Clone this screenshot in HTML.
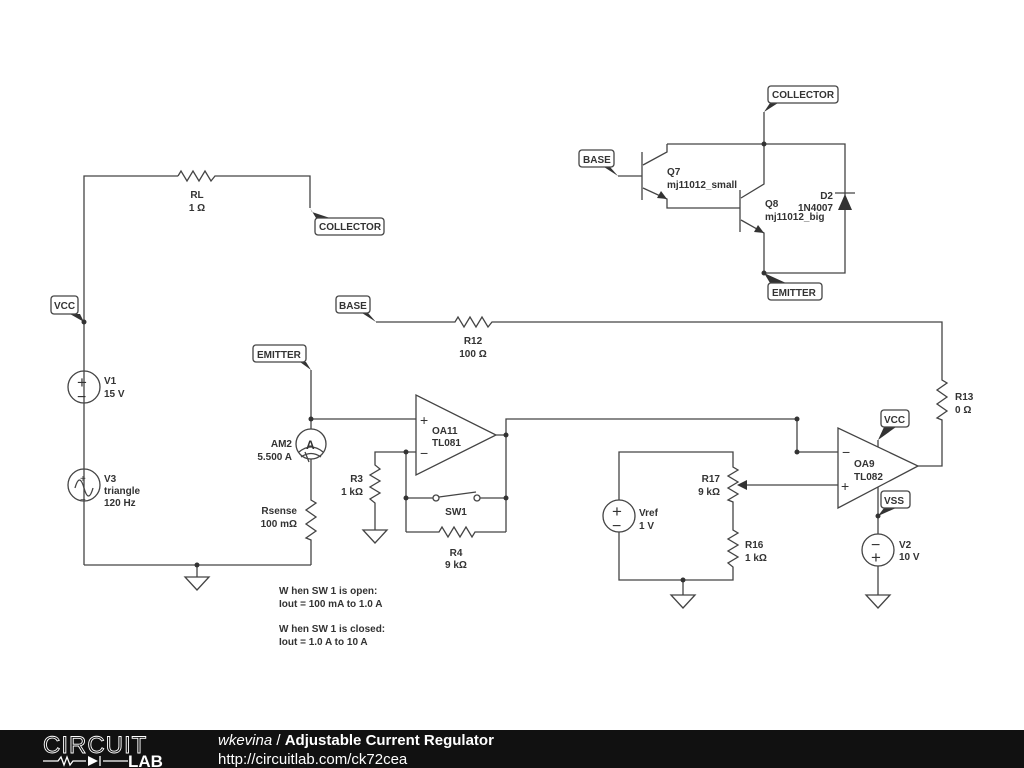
<!DOCTYPE html>
<html><head><meta charset="utf-8"><style>
html,body{margin:0;padding:0;background:#fff;width:1024px;height:768px;overflow:hidden}
svg{display:block}
text{font-family:"Liberation Sans",sans-serif;font-size:10px;fill:#333}
.w{stroke:#444;stroke-width:1.3;fill:none}
.lb{fill:#fff;stroke:#444;stroke-width:1.3}
.lt{font-size:10px;font-weight:bold;fill:#333}
</style></head><body>
<svg width="1024" height="768" viewBox="0 0 1024 768">
<g class="w">
<polyline points="84,565 84,176 178,176"/>
<polyline points="178,176 181,171 187,181 193,171 199,181 205,171 211,181 215,176 310,176 310,208"/>
<line x1="84" y1="565" x2="311" y2="565"/>
<line x1="197" y1="565" x2="197" y2="577"/>
<polygon points="185,577 209,577 197,590"/>
<circle cx="84" cy="387" r="16"/>
<circle cx="84" cy="485" r="16"/>
<path d="M75,488 q4.5,-16 9,0 q4.5,16 9,0"/>
<polyline points="311,370 311,429"/>
<circle cx="311" cy="444" r="15"/>
<path d="M299,452 q12,-10 24,0 M301,457 q10,-7 20,0 M305,452 l4,10"/>
<polyline points="311,459 311,500 316,503 306,510 316,517 306,524 316,531 306,538 311,540 311,565"/>
<line x1="311" y1="419" x2="416" y2="419"/>
<polygon points="416,395 416,475 496,435"/>
<polyline points="496,435 506,435 506,419 797,419 797,452 838,452"/>
<line x1="506" y1="435" x2="506" y2="532"/>
<polyline points="416,452 375,452 375,465 380,469 370,475 380,481 370,487 380,493 370,499 375,503 375,530"/>
<polygon points="363,530 387,530 375,543"/>
<line x1="406" y1="452" x2="406" y2="532"/>
<line x1="406" y1="498" x2="433" y2="498"/>
<circle cx="436" cy="498" r="3"/>
<circle cx="477" cy="498" r="3"/>
<line x1="439" y1="497" x2="476" y2="492"/>
<line x1="480" y1="498" x2="506" y2="498"/>
<polyline points="406,532 439,532 442,527 448,537 454,527 460,537 466,527 472,537 475,532 506,532"/>
<polyline points="376,322 455,322 458,317 464,327 470,317 476,327 482,317 488,327 492,322 942,322 942,380 947,383 937,390 947,397 937,404 947,411 937,418 942,420 942,466 918,466"/>
<polygon points="838,428 838,508 918,466"/>
<line x1="878" y1="447" x2="878" y2="440"/>
<line x1="878" y1="487" x2="878" y2="534"/>
<circle cx="878" cy="550" r="16"/>
<line x1="878" y1="566" x2="878" y2="595"/>
<polygon points="866,595 890,595 878,608"/>
<line x1="838" y1="485" x2="740" y2="485"/>
<polyline points="619,500 619,452 733,452 733,467 738,470 728,476 738,482 728,488 738,494 728,500 733,502 733,530 738,533 728,539 738,545 728,551 738,557 728,563 733,567 733,580 619,580 619,532"/>
<circle cx="619" cy="516" r="16"/>
<line x1="683" y1="580" x2="683" y2="595"/>
<polygon points="671,595 695,595 683,608"/>
<polyline points="764,112 764,184 741,198"/>
<polyline points="667,144 845,144 845,273 764,273 764,233 741,220"/>
<line x1="642" y1="152" x2="642" y2="200"/>
<line x1="618" y1="176" x2="642" y2="176"/>
<polyline points="643,165 667,152 667,144"/>
<polyline points="643,188 667,199 667,208 740,208"/>
<line x1="740" y1="190" x2="740" y2="232"/>
<line x1="835" y1="193" x2="855" y2="193"/>
</g>
<g fill="#333">
<polygon points="838,210 852,210 845,194"/>
<polygon points="667,199 657,198 661,191"/>
<polygon points="764,233 754,232 758,225"/>
<polygon points="737,485 747,480 747,490"/>
<circle cx="84" cy="322" r="2.5"/><circle cx="197" cy="565" r="2.5"/>
<circle cx="311" cy="419" r="2.5"/><circle cx="506" cy="435" r="2.5"/>
<circle cx="406" cy="452" r="2.5"/><circle cx="406" cy="498" r="2.5"/>
<circle cx="506" cy="498" r="2.5"/><circle cx="797" cy="419" r="2.5"/>
<circle cx="797" cy="452" r="2.5"/><circle cx="683" cy="580" r="2.5"/>
<circle cx="878" cy="516" r="2.5"/><circle cx="764" cy="144" r="2.5"/>
<circle cx="764" cy="273" r="2.5"/>
<polygon points="84,322 70,314 80,314"/>
<polygon points="310,208 312,212 330,218 316,218"/>
<polygon points="376,322 362,313 368,313"/>
<polygon points="311,370 300,362 306,362"/>
<polygon points="618,176 604,167 610,167"/>
<polygon points="764,112 770,103 778,103"/>
<polygon points="764,273 770,283 786,283"/>
<polygon points="878,440 884,427 896,427"/>
<polygon points="878,516 884,508 896,508"/>
</g>
<g>
<rect class="lb" x="315" y="218" width="69" height="17" rx="3"/><text class="lt" x="319" y="230">COLLECTOR</text>
<rect class="lb" x="51" y="296" width="27" height="18" rx="3"/><text class="lt" x="54" y="309">VCC</text>
<rect class="lb" x="336" y="296" width="34" height="17" rx="3"/><text class="lt" x="339" y="309">BASE</text>
<rect class="lb" x="253" y="345" width="53" height="17" rx="3"/><text class="lt" x="257" y="358">EMITTER</text>
<rect class="lb" x="768" y="86" width="70" height="17" rx="3"/><text class="lt" x="772" y="98">COLLECTOR</text>
<rect class="lb" x="579" y="150" width="35" height="17" rx="3"/><text class="lt" x="583" y="163">BASE</text>
<rect class="lb" x="768" y="283" width="54" height="17" rx="3"/><text class="lt" x="772" y="296">EMITTER</text>
<rect class="lb" x="881" y="410" width="28" height="17" rx="3"/><text class="lt" x="884" y="423">VCC</text>
<rect class="lb" x="881" y="491" width="29" height="17" rx="3"/><text class="lt" x="884" y="504">VSS</text>
</g>
<g>
<text x="77" y="388" style="font-size:17px">+</text><text x="77" y="402" style="font-size:16px">−</text>
<text x="80" y="482" style="font-size:10px">+</text><text x="80" y="503" style="font-size:10px">−</text>
<text x="612" y="517" style="font-size:17px">+</text><text x="612" y="531" style="font-size:16px">−</text>
<text x="871" y="550" style="font-size:16px">−</text><text x="871" y="563" style="font-size:17px">+</text>
<text x="420" y="425" style="font-size:14px">+</text><text x="420" y="458" style="font-size:14px">−</text>
<text x="842" y="457" style="font-size:14px">−</text><text x="841" y="491" style="font-size:14px">+</text>
<text x="306" y="449" style="font-size:12px;font-weight:bold">A</text>
</g>
<g font-weight="bold">
<text x="197" y="198" text-anchor="middle">RL</text><text x="197" y="211" text-anchor="middle">1 Ω</text>
<text x="104" y="384">V1</text><text x="104" y="397">15 V</text>
<text x="104" y="482">V3</text><text x="104" y="494">triangle</text><text x="104" y="506">120 Hz</text>
<text x="292" y="447" text-anchor="end">AM2</text><text x="292" y="460" text-anchor="end">5.500 A</text>
<text x="297" y="514" text-anchor="end">Rsense</text><text x="297" y="527" text-anchor="end">100 mΩ</text>
<text x="363" y="482" text-anchor="end">R3</text><text x="363" y="495" text-anchor="end">1 kΩ</text>
<text x="432" y="434">OA11</text><text x="432" y="446">TL081</text>
<text x="456" y="515" text-anchor="middle">SW1</text>
<text x="456" y="556" text-anchor="middle">R4</text><text x="456" y="568" text-anchor="middle">9 kΩ</text>
<text x="473" y="344" text-anchor="middle">R12</text><text x="473" y="357" text-anchor="middle">100 Ω</text>
<text x="955" y="400">R13</text><text x="955" y="413">0 Ω</text>
<text x="720" y="482" text-anchor="end">R17</text><text x="720" y="495" text-anchor="end">9 kΩ</text>
<text x="639" y="516">Vref</text><text x="639" y="529">1 V</text>
<text x="745" y="548">R16</text><text x="745" y="561">1 kΩ</text>
<text x="854" y="467">OA9</text><text x="854" y="480">TL082</text>
<text x="899" y="548">V2</text><text x="899" y="560">10 V</text>
<text x="667" y="175">Q7</text><text x="667" y="188">mj11012_small</text>
<text x="765" y="207">Q8</text><text x="765" y="220">mj11012_big</text>
<text x="833" y="199" text-anchor="end">D2</text><text x="833" y="211" text-anchor="end">1N4007</text>
<text x="279" y="594">W hen SW 1 is open:</text><text x="279" y="607">Iout = 100 mA to 1.0 A</text>
<text x="279" y="632">W hen SW 1 is closed:</text><text x="279" y="645">Iout = 1.0 A to 10 A</text>
</g>
<rect x="0" y="730" width="1024" height="38" fill="#111"/>
<text x="43" y="753" style="font-size:24px;fill:none;stroke:#fff;stroke-width:0.9;letter-spacing:1px">CIRCUIT</text>
<g stroke="#fff" stroke-width="1.3" fill="none"><polyline points="43,761 58,761 61,757 64,765 67,757 70,765 73,761 86,761"/><line x1="103" y1="761" x2="128" y2="761"/><line x1="100" y1="756" x2="100" y2="766"/></g>
<polygon points="88,756 88,766 98,761" fill="#fff"/>
<text x="128" y="767" style="font-size:17px;fill:#fff;font-weight:bold">LAB</text>
<text x="218" y="745" style="font-size:15px;fill:#fff"><tspan font-style="italic">wkevina</tspan> / <tspan font-weight="bold">Adjustable Current Regulator</tspan></text>
<text x="218" y="764" style="font-size:15px;fill:#fff">http://circuitlab.com/ck72cea</text>
</svg>
</body></html>
